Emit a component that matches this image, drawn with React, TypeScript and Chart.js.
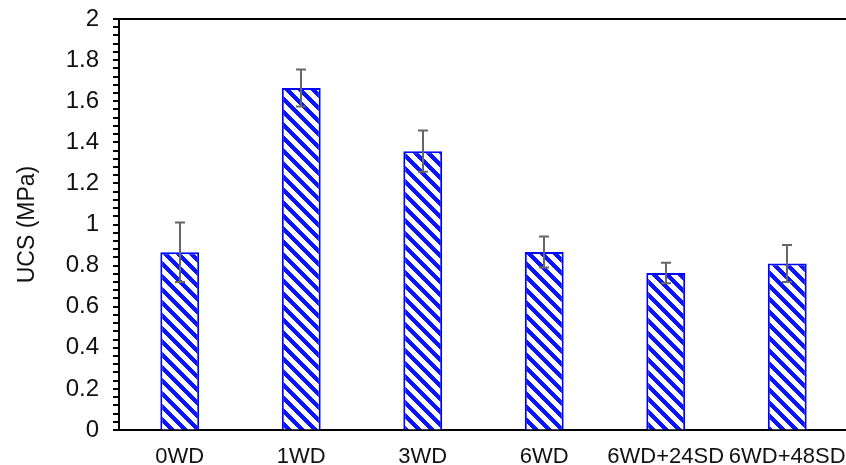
import React, { useEffect, useRef } from "react";
import { Chart, registerables } from "chart.js";

Chart.register(...registerables);

const categories = ["0WD", "1WD", "3WD", "6WD", "6WD+24SD", "6WD+48SD"];
const ucsValues = [0.865, 1.664, 1.357, 0.866, 0.764, 0.81];
const ucsErrors = [0.145, 0.09, 0.1, 0.075, 0.05, 0.09];
const yTicks = [0, 0.2, 0.4, 0.6, 0.8, 1, 1.2, 1.4, 1.6, 1.8, 2];

function makeHatch(): CanvasPattern | string {
  const s = 13;
  const w = 6;
  const c = document.createElement("canvas");
  c.width = s;
  c.height = s;
  const ctx = c.getContext("2d");
  if (!ctx) return "#0000ff";
  const img = ctx.createImageData(s, s);
  for (let yy = 0; yy < s; yy++) {
    for (let xx = 0; xx < s; xx++) {
      const d = (((xx - yy) % s) + s) % s;
      const idx = (yy * s + xx) * 4;
      const on = d < w;
      img.data[idx] = on ? 10 : 255;
      img.data[idx + 1] = on ? 20 : 255;
      img.data[idx + 2] = 255;
      img.data[idx + 3] = 255;
    }
  }
  ctx.putImageData(img, 0, 0);
  return ctx.createPattern(c, "repeat") || "#0000ff";
}

const decorPlugin = {
  id: "decor",
  afterDatasetsDraw(chart: any) {
    const { ctx, chartArea, scales } = chart;
    const y = scales.y;
    ctx.save();
    const meta = chart.getDatasetMeta(0);
    ctx.strokeStyle = "#666666";
    ctx.lineWidth = 2;
    meta.data.forEach((bar: any, i: number) => {
      const x = Math.round(bar.x);
      const top = y.getPixelForValue(ucsValues[i] + ucsErrors[i]);
      const bot = y.getPixelForValue(ucsValues[i] - ucsErrors[i]);
      ctx.beginPath();
      ctx.moveTo(x, top);
      ctx.lineTo(x, bot);
      ctx.moveTo(x - 5, top);
      ctx.lineTo(x + 5, top);
      ctx.moveTo(x - 5, bot);
      ctx.lineTo(x + 5, bot);
      ctx.stroke();
    });
    ctx.strokeStyle = "#000000";
    ctx.lineWidth = 2;
    for (let k = 0; k <= 50; k++) {
      const py = Math.round(y.getPixelForValue(k * 0.04));
      ctx.beginPath();
      ctx.moveTo(chartArea.left - 6, py);
      ctx.lineTo(chartArea.left, py);
      ctx.stroke();
    }
    ctx.beginPath();
    ctx.moveTo(chartArea.left - 6, chartArea.top);
    ctx.lineTo(chart.width, chartArea.top);
    ctx.stroke();
    ctx.restore();
  },
};

export default function App() {
  const ref = useRef<HTMLCanvasElement | null>(null);
  useEffect(() => {
    if (!ref.current) return;
    const hatch = makeHatch();
    const chart = new Chart(ref.current, {
      type: "bar",
      data: {
        labels: categories,
        datasets: [
          {
            label: "UCS",
            data: ucsValues,
            backgroundColor: hatch as any,
            borderColor: "#0000ff",
            borderWidth: 2,
            barPercentage: 0.32,
            categoryPercentage: 1,
          },
        ],
      },
      options: {
        animation: false,
        responsive: false,
        maintainAspectRatio: false,
        layout: { padding: { top: 19, right: 4, left: 14, bottom: 0 } },
        plugins: {
          legend: { display: false },
          tooltip: { enabled: false },
          title: { display: false },
        },
        scales: {
          x: {
            offset: true,
            grid: { display: false, drawTicks: false },
            border: { display: true, color: "#000000", width: 2 },
            ticks: {
              autoSkip: false,
              maxRotation: 0,
              minRotation: 0,
              padding: 14,
              color: "#111111",
              font: { family: "'Liberation Sans', Arial, sans-serif", size: 22 },
            },
            afterFit(scale: any) {
              scale.height = 35;
              scale.paddingLeft = 0;
              scale.paddingRight = 0;
            },
          },
          y: {
            min: 0,
            max: 2,
            afterBuildTicks(scale: any) {
              scale.ticks = yTicks.map((v) => ({ value: v }));
            },
            grid: {
              display: true,
              drawOnChartArea: false,
              drawTicks: true,
              tickLength: 6,
              color: "rgba(0,0,0,0)",
            },
            border: { display: true, color: "#000000", width: 2 },
            ticks: {
              padding: 14,
              color: "#111111",
              font: { family: "'Liberation Sans', Arial, sans-serif", size: 24 },
              callback: (v: any) => String(Math.round(Number(v) * 10) / 10),
            },
            title: {
              display: true,
              text: "UCS (MPa)",
              color: "#111111",
              padding: { top: 0, bottom: 4 },
              font: { family: "'Liberation Sans', Arial, sans-serif", size: 23 },
            },
            afterFit(scale: any) {
              scale.width = 105;
              scale.paddingTop = 0;
              scale.paddingBottom = 0;
            },
          },
        },
      },
      plugins: [decorPlugin],
    });
    return () => chart.destroy();
  }, []);
  return (
    <div
      style={{
        position: "fixed",
        left: 0,
        top: 0,
        width: 846,
        height: 465,
        overflow: "hidden",
        background: "#ffffff",
      }}
    >
      <canvas ref={ref} width={852} height={465} style={{ width: 852, height: 465 }} />
    </div>
  );
}
